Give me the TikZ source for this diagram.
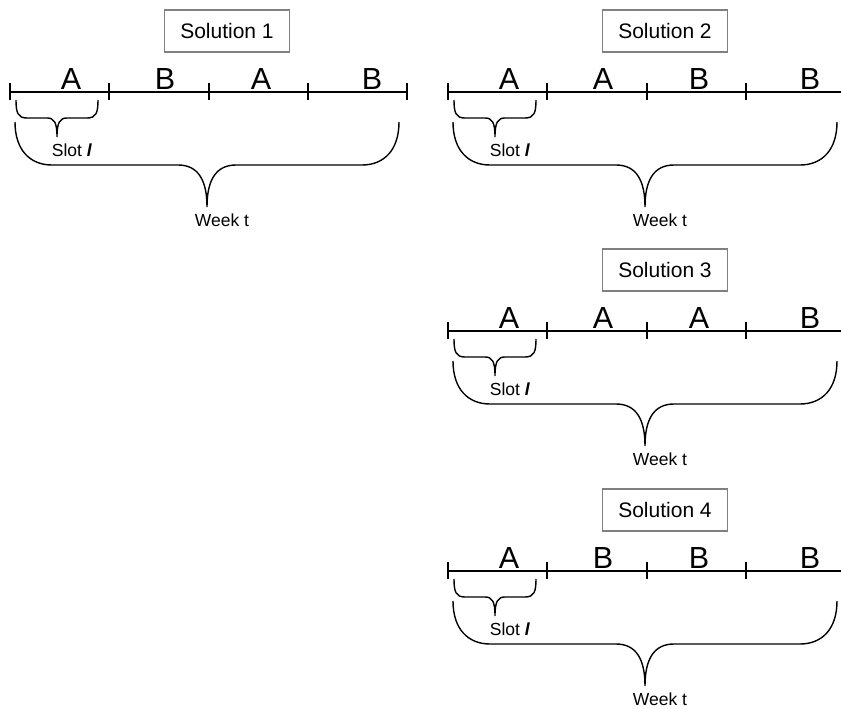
\documentclass[tikz,border=0pt]{standalone}
\usepackage{fontspec}
\setmainfont{Liberation Sans}
\definecolor{boxgray}{RGB}{128,128,128}
\newcommand\solpanel[8]{%
\begin{scope}[shift={(#1,#2)}]
  \node[solbox] (box#3) at (227,31) {Solution #3};
  \coordinate (st#3) at (10,92);
  \coordinate (en#3) at (#8,92);
  \draw[tl] (st#3) -- (en#3);
  \foreach \tx in {10,109,209,308} \draw[tl] (\tx,83) -- (\tx,100);
  \node[letter] (la#3) at (71,89) {#4};
  \node[letter] (lb#3) at (165,89) {#5};
  \node[letter] (lc#3) at (261,89) {#6};
  \node[letter] (ld#3) at (372,89) {#7};
  \draw[brc] (16,100) .. controls (16,113) and (18,118) .. (27,118) -- (47,118)
     .. controls (54,118) and (57,122) .. (57,137)
     .. controls (57,122) and (60,118) .. (67,118) -- (87,118)
     .. controls (96,118) and (98,113) .. (98,100);
  \node[lab] (slot#3) at (72,150) {Slot \textbf{\textit{l}}};
  \draw[brc] (15,122) .. controls (15,150) and (30,165) .. (52,165) -- (178,165)
     .. controls (198,165) and (207,180) .. (207,207)
     .. controls (207,180) and (216,165) .. (236,165) -- (362,165)
     .. controls (384,165) and (399,150) .. (399,122);
  \node[lab] (week#3) at (222,220) {Week t};
\end{scope}}
\begin{document}
\begin{tikzpicture}[x=1pt,y=-1pt,
  solbox/.style={draw=boxgray, line width=1.3pt, minimum width=125pt, minimum height=42pt, inner sep=0pt, font=\fontsize{21}{24}\selectfont},
  tl/.style={line width=1.4pt},
  brc/.style={line width=1.4pt},
  letter/.style={font=\fontsize{30.5}{32}\selectfont, anchor=base, inner sep=0pt},
  lab/.style={font=\fontsize{17.5}{18}\selectfont, inner sep=0pt}]
\useasboundingbox (0,0) rectangle (841,709);
\solpanel{0}{0}{1}{A}{B}{A}{B}{407}
\draw[tl] (407,83) -- (407,100);
\solpanel{438}{0}{2}{A}{A}{B}{B}{403}
\solpanel{438}{239}{3}{A}{A}{A}{B}{403}
\solpanel{438}{479}{4}{A}{B}{B}{B}{403}
\end{tikzpicture}
\end{document}
